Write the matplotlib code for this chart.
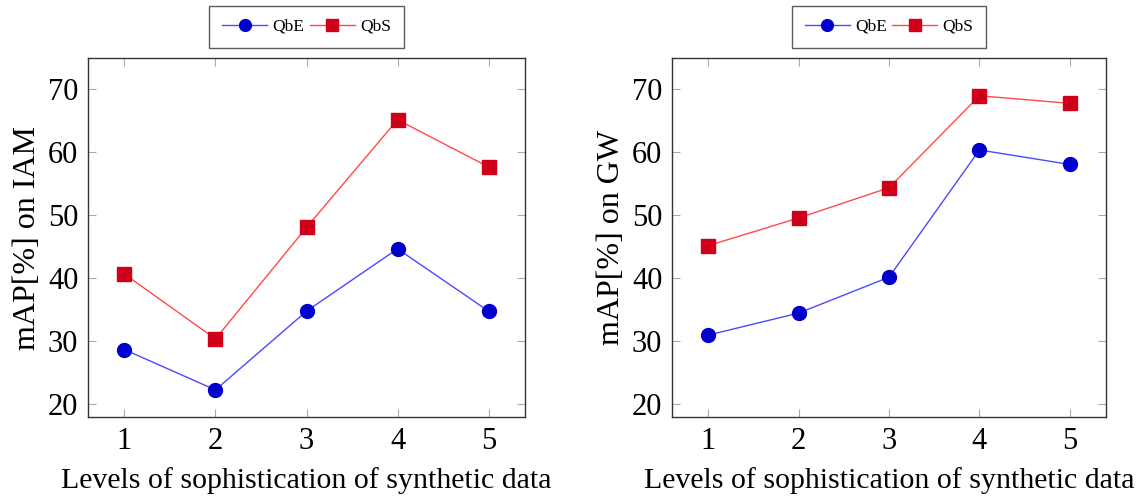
import matplotlib
matplotlib.use("Agg")
import matplotlib.pyplot as plt

levels = [1, 2, 3, 4, 5]
iam_qbe = [28.7, 22.3, 34.8, 44.7, 34.8]
iam_qbs = [40.7, 30.4, 48.1, 65.2, 57.7]
gw_qbe = [31.0, 34.5, 40.2, 60.4, 58.1]
gw_qbs = [45.2, 49.6, 54.4, 69.0, 67.8]
yticks = [20, 30, 40, 50, 60, 70]
xlabel = "Levels of sophistication of synthetic data"
ylabels = ["mAP[%] on IAM", "mAP[%] on GW"]

plt.rcParams['font.family'] = ['Liberation Serif', 'DejaVu Serif']
plt.rcParams['mathtext.fontset'] = 'stix'

fig = plt.figure(figsize=(11.44, 4.98), dpi=100)
positions = [[88/1144, 1-417/498, 437/1144, 359/498],
             [672/1144, 1-417/498, 434/1144, 359/498]]
datasets = [(iam_qbe, iam_qbs), (gw_qbe, gw_qbs)]

for pos, (qbe, qbs), yl in zip(positions, datasets, ylabels):
    ax = fig.add_axes(pos)
    ax.plot(levels, qbe, color='#4a4aff', lw=1.0, marker='o', markersize=10,
            markerfacecolor='#0000cc', markeredgecolor='#0000cc', label='QbE')
    ax.plot(levels, qbs, color='#ff4a4a', lw=1.0, marker='s', markersize=9.5,
            markerfacecolor='#d0001a', markeredgecolor='#d0001a', label='QbS')
    ax.set_xlim(0.6, 5.4)
    ax.set_ylim(18, 75)
    ax.set_xticks(levels)
    ax.set_yticks(yticks)
    ax.tick_params(direction='in', length=6, width=0.8, color='#aaaaaa',
                   top=True, right=True, labelsize=22, pad=7)
    for s in ax.spines.values():
        s.set_color('#333333')
        s.set_linewidth(1.0)
    ax.set_xlabel(xlabel, fontsize=21.5, labelpad=8)
    ax.set_ylabel(yl, fontsize=23, labelpad=4)
    leg = ax.legend(loc='lower center', bbox_to_anchor=(0.5, 1.028), ncol=2,
                    fontsize=12.5, frameon=True, fancybox=False, edgecolor='#333333',
                    handlelength=2.6, columnspacing=0.3, handletextpad=0.3,
                    borderpad=0.75, markerscale=0.85, borderaxespad=0)
    leg.get_frame().set_linewidth(1.0)

fig.savefig("out.png", dpi=100)
